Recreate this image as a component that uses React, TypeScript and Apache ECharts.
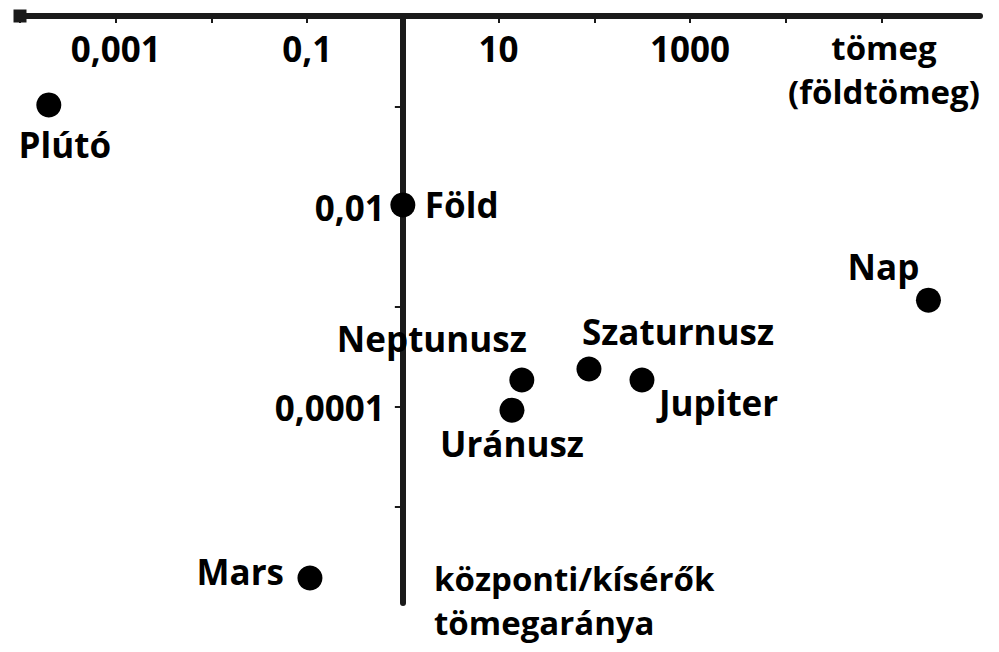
import React, { useEffect, useRef } from "react";
import * as echarts from "echarts";

// ---- data ----
const names = ["Plútó", "Föld", "Nap", "Neptunusz", "Szaturnusz", "Jupiter", "Uránusz", "Mars"];
const masses = [0.0002, 1, 310000, 17.5, 88, 315, 13.8, 0.107]; // Earth masses
const ratios = [0.105, 0.0105, 0.00117, 0.000186, 0.00024, 0.000186, 0.000093, 0.00000195];

const xTickValues = [1e-4, 1e-3, 1e-2, 1e-1, 1, 10, 100, 1000, 1e4, 1e5];
const xLabelValues = [0.001, 0.1, 10, 1000];
const xLabelTexts = ["0,001", "0,1", "10", "1000"];

const yTickValues = [1e-6, 1e-5, 1e-4, 1e-3, 1e-2, 1e-1, 1];
const yLabelValues = [0.01, 0.0001];
const yLabelTexts = ["0,01", "0,0001"];

const xAxisNameLines = ["tömeg", "(földtömeg)"];
const yAxisNameLines = ["központi/kísérők", "tömegaránya"];

// ---- axis extents ----
const X_MIN = 1e-4;
const X_MAX = Math.pow(10, 6.03);
const Y_MIN = Math.pow(10, -5.96);
const Y_MAX = Math.pow(10, -0.09);

// ---- layout / style ----
const FONT = "'Open Sans', 'Noto Sans', sans-serif";
const FS = 35;
const FS_NAME = 33;
const FW = 700;
const INK = "#000000";
const GRID = { left: 20, top: 16, width: 960, height: 587 };

const labelPlacement: Record<string, { align: string; offset: number[] }> = {
  "Plútó": { align: "center", offset: [16, 40] },
  "Föld": { align: "left", offset: [22, 0] },
  "Nap": { align: "center", offset: [-45, -34] },
  "Neptunusz": { align: "right", offset: [5, -42] },
  "Szaturnusz": { align: "left", offset: [-7, -37] },
  "Jupiter": { align: "left", offset: [17, 22] },
  "Uránusz": { align: "center", offset: [0, 33] },
  "Mars": { align: "right", offset: [-26, -6] },
};

// positions of the axis-name lines (x, y of each line, middle-aligned)
const xNamePos = [[884, 47], [884, 91]];
const yNamePos = [[434, 578], [434, 622]];

function labelFor(v: number, values: number[], texts: string[]) {
  const lv = Math.log10(v);
  for (let i = 0; i < values.length; i++) {
    if (Math.abs(Math.log10(values[i]) - lv) < 0.01) return texts[i];
  }
  return "";
}

export default function App() {
  const ref = useRef<HTMLDivElement>(null);
  useEffect(() => {
    if (!ref.current) return;
    const chart = echarts.init(ref.current, null, { renderer: "svg" });
    const xSpan = Math.log10(X_MAX) - Math.log10(X_MIN);
    const yAxisOffset = -((Math.log10(1) - Math.log10(X_MIN)) / xSpan) * GRID.width;

    const textStyle = { fontFamily: FONT, fontSize: FS, fontWeight: FW, color: INK };
    const nameFont = `${FW} ${FS_NAME}px ${FONT}`;

    const nameText = (text: string, pos: number[], align: string) => ({
      type: "text",
      x: pos[0],
      y: pos[1],
      style: { text, textAlign: align, textVerticalAlign: "middle", font: nameFont, fill: INK },
    });

    chart.setOption({
      animation: false,
      backgroundColor: "#ffffff",
      grid: { ...GRID, containLabel: false, outerBoundsMode: "none" },
      xAxis: {
        type: "log",
        logBase: 10,
        position: "top",
        min: X_MIN,
        max: X_MAX,
        axisLine: {
          show: true,
          onZero: false,
          symbol: ["rect", "none"],
          symbolSize: [13, 13],
          lineStyle: { color: "#1a1a1a", width: 6 },
        },
        axisTick: {
          show: true,
          inside: true,
          length: 7,
          customValues: xTickValues,
          lineStyle: { color: "#1a1a1a", width: 2 },
        },
        axisLabel: {
          show: true,
          inside: true,
          margin: 15,
          customValues: xLabelValues,
          formatter: (v: number) => labelFor(v, xLabelValues, xLabelTexts),
          ...textStyle,
        },
        splitLine: { show: false },
      },
      yAxis: {
        type: "log",
        logBase: 10,
        position: "left",
        offset: yAxisOffset,
        min: Y_MIN,
        max: Y_MAX,
        axisLine: { show: true, onZero: false, lineStyle: { color: "#1a1a1a", width: 6 } },
        axisTick: {
          show: true,
          length: 8,
          customValues: yTickValues,
          lineStyle: { color: "#1a1a1a", width: 2 },
        },
        axisLabel: {
          show: true,
          margin: 18,
          customValues: yLabelValues,
          formatter: (v: number) => labelFor(v, yLabelValues, yLabelTexts),
          ...textStyle,
        },
        splitLine: { show: false },
      },
      series: [
        {
          type: "scatter",
          symbol: "circle",
          symbolSize: 25,
          itemStyle: { color: "#000000", opacity: 1 },
          emphasis: { disabled: true },
          data: names.map((n, i) => ({
            name: n,
            value: [masses[i], ratios[i]],
            label: {
              show: true,
              position: "inside",
              formatter: "{b}",
              verticalAlign: "middle",
              opacity: 1,
              ...labelPlacement[n],
              ...textStyle,
            },
          })),
        },
      ],
      graphic: [
        nameText(xAxisNameLines[0], xNamePos[0], "center"),
        nameText(xAxisNameLines[1], xNamePos[1], "center"),
        nameText(yAxisNameLines[0], yNamePos[0], "left"),
        nameText(yAxisNameLines[1], yNamePos[1], "left"),
      ],
    });
    return () => chart.dispose();
  }, []);
  return (
    <div
      ref={ref}
      style={{ position: "absolute", left: 0, top: 0, width: 999, height: 652, background: "#fff" }}
    />
  );
}
